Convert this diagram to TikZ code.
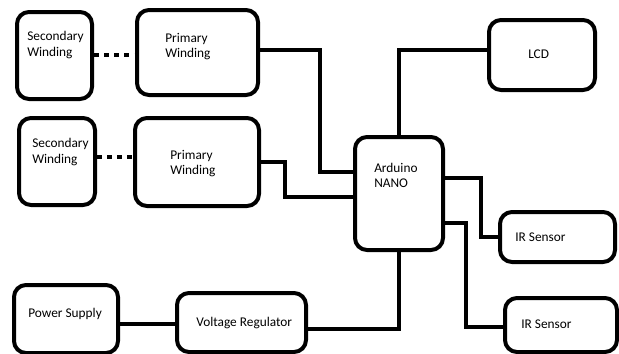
\documentclass[tikz,border=0pt]{standalone}
\usepackage{fontspec}
\setmainfont{Carlito}

\begin{document}
\begin{tikzpicture}[x=0.75pt,y=-0.75pt,
		blk/.style={draw, line width=3pt, rounded corners=9pt, inner sep=0pt},
		txt/.style={anchor=west, align=left, inner sep=0pt, font=\fontsize{10}{11.3}\selectfont},
		wire/.style={line width=2.6pt},
		dotlink/.style={line width=3.2pt, dash pattern=on 3.8pt off 3.8pt}]
			\useasboundingbox (0,0) rectangle (619,354);
			\foreach \n/\x/\y/\w/\h in {sec1/54.5/55.5/75/87, pri1/197.5/52.5/121/85,
					sec2/57/161.5/76/87, pri2/197/162/124/88, ard/399/193.5/88/113,
					lcd/542/55/106/70, ir1/557.5/237/115/50, ir2/561/325/112/54,
					vr/241.5/322.5/129/59, ps/66/319/104/68}{
					\node[blk, minimum width=\w*0.75pt, minimum height=\h*0.75pt] (\n) at (\x,\y) {};
				}
			\foreach \n/\x/\y/\t in {sec1t/27/45/{Secondary\\Winding}, pri1t/165/46.5/{Primary\\Winding},
					sec2t/32/152/{Secondary\\Winding}, pri2t/170/163.5/{Primary\\Winding},
					ardt/374/175/{Arduino\\NANO}, lcdt/528/54/{LCD}, ir1t/515/237/{IR Sensor},
					ir2t/521/324/{IR Sensor}, vrt/196/323/{Voltage Regulator}, pst/28/314/{Power Supply}}{
					\node[txt] (\n) at (\x,\y) {\t};
				}
			%
			\draw[dotlink] (sec1.east |- 0,55) -- (pri1.west |- 0,55);
			\draw[dotlink] (sec2.east |- 0,157) -- (pri2.west |- 0,157);
			\draw[wire] (pri1.east |- 0,50) -| (320,172) -- (ard.west |- 0,172);
			\draw[wire] (pri2.east) -| (285,197) -- (ard.west |- 0,197);
			\draw[wire] (ard.north) |- (lcd.west |- 0,50);
			\draw[wire] (ard.east |- 0,178) -| (481,237) -- (ir1.west);
			\draw[wire] (ard.east |- 0,223) -| (466,327) -- (ir2.west |- 0,327);
			\draw[wire] (ard.south) |- (vr.east |- 0,329);
			\draw[wire] (ps.east |- 0,324) -- (vr.west |- 0,324);
		\end{tikzpicture}
\end{document}
